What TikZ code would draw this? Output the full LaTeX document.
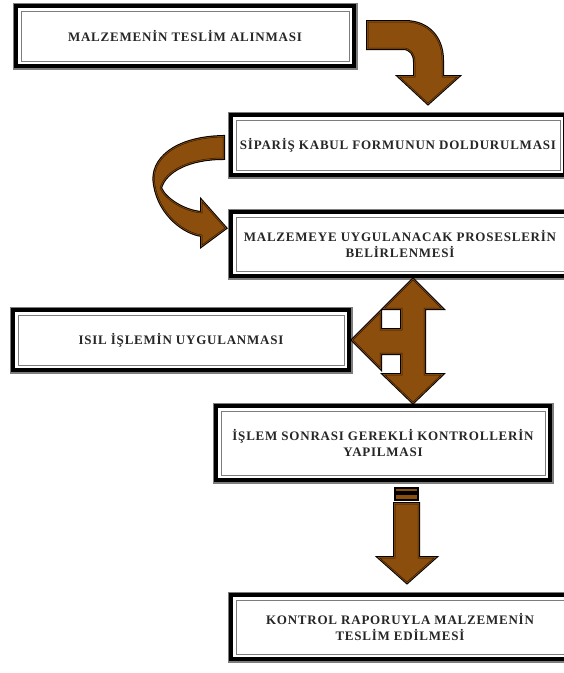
\documentclass[tikz,border=0pt]{standalone}
\usepackage{fontspec}
\newfontfamily\stepfont{Liberation Serif}[LetterSpace=6]
\definecolor{arrowbrown}{RGB}{140,78,12}
\definecolor{arrowedge}{RGB}{50,25,0}
\definecolor{framegray}{RGB}{125,125,125}

\begin{document}
\begin{tikzpicture}[
    x=1pt,y=-1pt,
    stepbox/.style={rectangle,fill=white,draw=black,line width=4pt,
        preaction={draw=framegray,line width=7pt},
        inner sep=0pt,outer sep=0pt,align=center,text=black!85,
        font=\stepfont\bfseries\fontsize{13}{16}\selectfont,
        path picture={\draw[framegray,line width=1pt]
            ([shift={(5pt,5pt)}]path picture bounding box.south west) rectangle
            ([shift={(-5pt,-5pt)}]path picture bounding box.north east);}},
    blockarrow/.style={fill=arrowbrown,line join=miter,
        preaction={draw=black,line width=4pt},
        postaction={draw=arrowbrown,line width=2pt},
        postaction={draw=arrowedge,line width=0.5pt}},
    stripe/.style={fill=arrowbrown,draw=black,line width=1.5pt}
  ]
    \useasboundingbox (0,0) rectangle (564,673);
    \clip (0,0) rectangle (564,673);

    \node [stepbox,minimum width=338pt,minimum height=60pt] (recv)    at (185,36)  {MALZEMEN\.IN TESL\.IM ALINMASI};
    \node [stepbox,minimum width=334pt,minimum height=60pt] (order)   at (398,145) {S\.IPAR\.I\c{S} KABUL FORMUNUN DOLDURULMASI};
    \node [stepbox,minimum width=338pt,minimum height=64pt] (procs)   at (400,244) {MALZEMEYE UYGULANACAK PROSESLER\.IN\\BEL\.IRLENMES\.I};
    \node [stepbox,minimum width=336pt,minimum height=60pt] (heat)    at (181,340) {ISIL \.I\c{S}LEM\.IN UYGULANMASI};
    \node [stepbox,minimum width=334pt,minimum height=74pt] (checks)  at (383,443) {\.I\c{S}LEM SONRASI GEREKL\.I KONTROLLER\.IN\\YAPILMASI};
    \node [stepbox,minimum width=338pt,minimum height=64pt] (deliver) at (400,627) {KONTROL RAPORUYLA MALZEMEN\.IN\\TESL\.IM ED\.ILMES\.I};

    \begin{scope}[shift={(recv.east)}]
        \path[blockarrow] (14,-14) -- (51,-14) .. controls (74,-14) and (88,2) .. (88,24)
            -- (88,41) -- (103,41) -- (74,67) -- (46,41) -- (61,41) -- (61,26)
            .. controls (61,18) and (57,12) .. (49,12) -- (14,12) -- cycle;
    \end{scope}

    \begin{scope}[shift={(order.west)}]
        \path[blockarrow] (-8,-8) .. controls (-56,-7) and (-81,15) .. (-76,40)
            .. controls (-71,70) and (-46,88) .. (-29,90) -- (-29,100) -- (-6,83)
            -- (-29,57) -- (-29,68) .. controls (-46,67) and (-66,55) .. (-71,43)
            .. controls (-66,25) and (-41,13) .. (-8,13) -- cycle;
    \end{scope}

    \begin{scope}[shift={(heat.east)}]
        \path[blockarrow] (64,-60) -- (92,-32) -- (75,-32) -- (75,35) -- (92,35)
            -- (64,62) -- (36,35) -- (53,35) -- (53,13) -- (31,13) -- (31,27)
            -- (4,0) -- (31,-27) -- (31,-10) -- (53,-10) -- (53,-32) -- (36,-32) -- cycle;
    \end{scope}

    \begin{scope}[shift={(checks.south)}]
        \path[stripe] (12,8) rectangle (35,12);
        \path[stripe] (12,14) rectangle (35,20);
        \path[blockarrow] (12,24) -- (35,24) -- (35,78) -- (51,78) -- (24,102)
            -- (-3,78) -- (12,78) -- cycle;
    \end{scope}
\end{tikzpicture}
\end{document}
